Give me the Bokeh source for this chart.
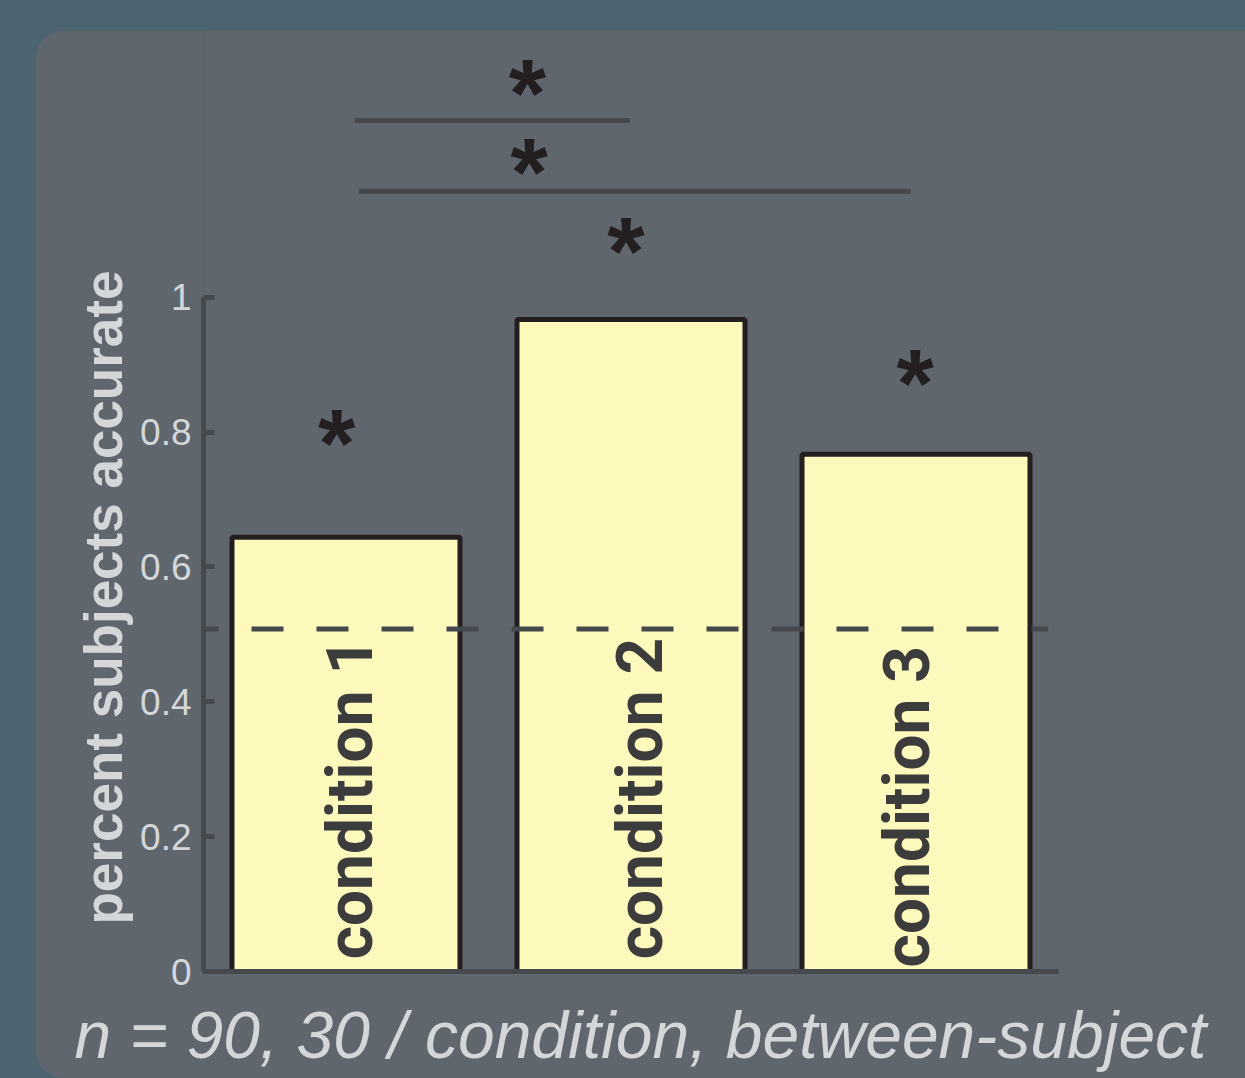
import math
from bokeh.plotting import figure
from bokeh.models import Range1d, FixedTicker, Title, Spacer
from bokeh.layouts import column, row
from bokeh.core.properties import value
from bokeh.embed import file_html
from bokeh.resources import INLINE

# ---------------- data ----------------
categories = ["condition 1", "condition 2", "condition 3"]
accuracy = [0.644, 0.967, 0.767]
chance_level = 0.508
y_ticks = [0, 0.2, 0.4, 0.6, 0.8, 1]
y_tick_labels = ["0", "0.2", "0.4", "0.6", "0.8", "1"]
y_label = "percent subjects accurate"
footnote = "n = 90, 30 / condition, between-subject"

# significance markers
bar_star_y = [0.800, 1.084, 0.888]
bar_star_dx = [-0.033, -0.018, -0.003]
bracket_x0 = [1.031, 1.045]
bracket_x1 = [1.995, 2.982]
bracket_y = [1.262, 1.157]
bracket_star_x = [1.637, 1.643]
bracket_star_y = [1.319, 1.202]

# ---------------- style ----------------
OUTER = "#4b6470"
PANEL = "#60666e"
AXIS = "#45484c"
LIGHT = "#d4d7da"
DARK = "#3c3c3c"
BAR_FILL = "#fdf8bc"
BAR_LINE = "#231f20"

W, H = 1210, 1048
xs = [i + 1 for i in range(len(categories))]

p = figure(width=W, height=H, output_backend="svg", toolbar_location=None,
           x_range=Range1d(0.5, 3.5), y_range=Range1d(0, 942 / 675),
           min_border_left=168, min_border_right=187,
           min_border_top=0, min_border_bottom=106)
p.background_fill_color = PANEL
p.border_fill_color = PANEL
p.outline_line_color = None
p.xgrid.grid_line_color = None
p.ygrid.grid_line_color = None
p.styles = {"border-radius": "30px 0px 0px 30px", "overflow": "hidden"}

# y axis
ya = p.yaxis[0]
ya.ticker = FixedTicker(ticks=y_ticks)
ya.major_label_overrides = {t: l for t, l in zip(y_ticks, y_tick_labels)}
ya.bounds = (0, 1)
ya.axis_line_color = AXIS
ya.axis_line_width = 5
ya.major_tick_line_color = AXIS
ya.major_tick_line_width = 5
ya.major_tick_in = 11
ya.major_tick_out = 0
ya.minor_tick_line_color = None
ya.major_label_standoff = 12
ya.major_label_text_font = "Liberation Sans"
ya.major_label_text_font_size = "37px"
ya.major_label_text_color = LIGHT

# x axis (line only; an empty-looking label only reserves a little space)
xa = p.xaxis[0]
xa.ticker = FixedTicker(ticks=[])
xa.axis_line_color = AXIS
xa.axis_line_width = 5
xa.major_tick_line_color = None
xa.minor_tick_line_color = None
xa.major_label_text_color = None
xa.axis_label = " "
xa.axis_label_text_font_size = "1px"
xa.axis_label_standoff = 13
xa.axis_label_text_color = PANEL

# bars
p.vbar(x=xs, top=accuracy, bottom=0, width=0.8,
       fill_color=BAR_FILL, line_color=BAR_LINE, line_width=5)

# condition labels inside bars (rotated)
label_dx = [0.016, 0.035, -0.031]
label_y = [0.018, 0.018, 0.006]
p.text(x=[x + d for x, d in zip(xs, label_dx)], y=label_y, text=categories,
       angle=math.pi / 2, text_align="left", text_baseline="alphabetic",
       text_font=value("Roboto"), text_font_style="bold",
       text_font_size="64px", text_color=DARK)

# chance line
p.line(x=[0.5, 3.464], y=[chance_level, chance_level], line_color=AXIS,
       line_width=5, line_dash="32 33", line_dash_offset=17)

# brackets
p.segment(x0=bracket_x0, x1=bracket_x1, y0=bracket_y, y1=bracket_y,
          line_color=AXIS, line_width=5)

# asterisks
star_x = [x + d for x, d in zip(xs, bar_star_dx)] + bracket_star_x
star_y = bar_star_y + bracket_star_y
p.text(x=star_x, y=star_y, text=["*"] * len(star_x), text_align="center",
       text_baseline="alphabetic", y_offset=10,
       text_font=value("Liberation Sans"), text_font_style="bold",
       text_font_size="96px", text_color=BAR_LINE)

# y label (as a side title, so it is not clipped by the frame)
p.add_layout(Title(text=y_label, align="left", offset=47, standoff=10,
                   text_font="Liberation Sans",
                   text_font_style="bold", text_font_size="53px",
                   text_color=LIGHT), "left")

# footnote
p.add_layout(Title(text=footnote, align="left", offset=-129, standoff=14,
                   text_font="Liberation Sans",
                   text_font_style="italic", text_font_size="66px",
                   text_color=LIGHT), "below")

layout = column(Spacer(width=W + 35, height=30),
                row(Spacer(width=35, height=H), p),
                styles={"background-color": OUTER})

open("out.html", "w").write(file_html(layout, INLINE, title="chart"))
